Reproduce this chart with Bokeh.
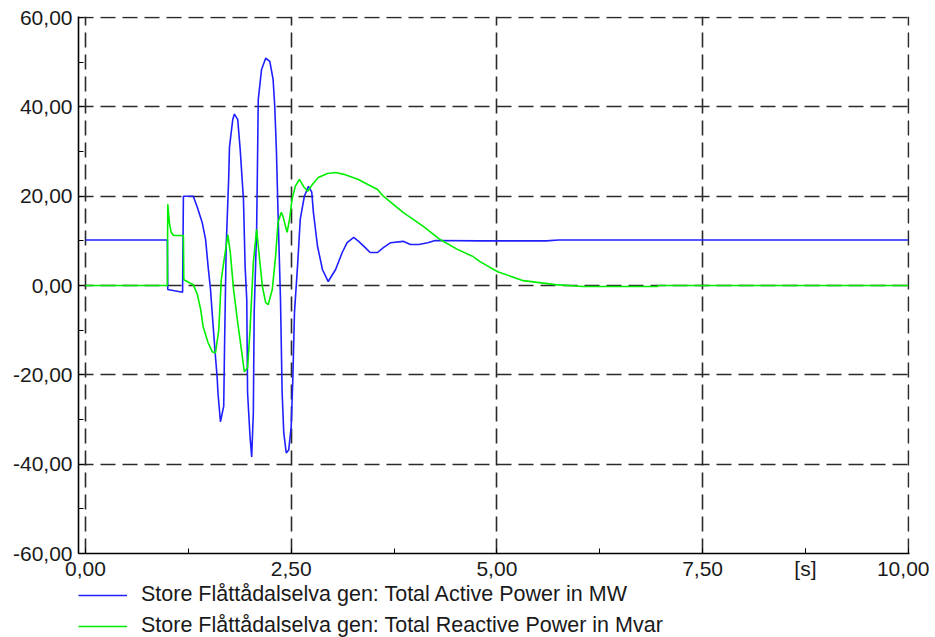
from bokeh.plotting import figure
from bokeh.models import Range1d, FixedTicker, Legend, LegendItem
from bokeh.layouts import column
from bokeh.embed import file_html
from bokeh.resources import INLINE

# ---- data ----
t_active = [0.00, 0.995, 1.00, 1.18, 1.19, 1.31, 1.36, 1.42, 1.46, 1.49, 1.52, 1.54, 1.58, 1.60, 1.61,
            1.64, 1.68, 1.69, 1.71, 1.74, 1.75, 1.79, 1.81, 1.85, 1.88, 1.92, 1.94, 1.96, 1.97, 2.00,
            2.02, 2.04, 2.05, 2.08, 2.09, 2.10, 2.14, 2.19, 2.24, 2.28, 2.30, 2.32, 2.34, 2.37, 2.39,
            2.41, 2.44, 2.47, 2.50, 2.52, 2.54, 2.58, 2.61, 2.66, 2.71, 2.75, 2.77, 2.82, 2.88, 2.95,
            3.04, 3.12, 3.18, 3.26, 3.32, 3.40, 3.46, 3.55, 3.62, 3.71, 3.86, 3.95, 4.05, 4.16, 4.25,
            4.80, 5.60, 5.75, 10.00]
p_active = [10.2, 10.2, -0.9, -1.5, 20.0, 20.0, 17.5, 14.0, 10.3, 4.3, -1.0, -6.2, -16.0, -20.5, -24.0,
            -30.5, -27.0, -13.6, 8.8, 23.8, 31.0, 37.2, 38.4, 37.2, 30.5, 19.3, 4.3, -3.1, -24.0, -33.9,
            -38.4, -28.5, -6.2, 12.5, 26.7, 41.7, 48.4, 50.9, 50.2, 46.2, 40.2, 30.5, 16.4, -3.1, -24.0,
            -33.0, -37.5, -36.8, -31.6, -21.0, -6.0, 5.2, 14.8, 20.0, 22.2, 20.9, 16.4, 8.8, 3.6, 0.9,
            3.6, 7.4, 9.6, 10.8, 9.9, 8.5, 7.4, 7.4, 8.5, 9.6, 9.9, 9.2, 9.2, 9.6, 10.1,
            10.0, 10.0, 10.2, 10.2]

t_reactive = [0.00, 0.995, 1.00, 1.02, 1.04, 1.07, 1.19, 1.195, 1.31, 1.36, 1.40, 1.43, 1.49, 1.54, 1.58,
              1.62, 1.65, 1.68, 1.73, 1.76, 1.80, 1.85, 1.90, 1.93, 1.97, 2.00, 2.04, 2.08, 2.10, 2.15,
              2.19, 2.22, 2.27, 2.31, 2.34, 2.38, 2.40, 2.45, 2.48, 2.51, 2.55, 2.60, 2.65, 2.70, 2.76,
              2.83, 2.94, 3.04, 3.14, 3.31, 3.55, 3.62, 3.86, 4.11, 4.31, 4.52, 4.71, 4.80, 5.01, 5.32,
              5.71, 6.05, 6.95, 6.96, 10.00]
q_reactive = [0.0, 0.0, 18.2, 14.0, 12.0, 11.2, 11.2, 1.3, 0.2, -2.0, -5.4, -9.2, -12.8, -14.8, -15.1,
              -9.9, 1.3, 5.2, 11.4, 7.4, -0.9, -8.3, -15.0, -19.3, -18.4, -9.9, 5.2, 12.6, 8.8, -0.2,
              -3.8, -4.3, -0.9, 6.5, 14.1, 16.4, 15.5, 11.9, 14.8, 19.3, 22.2, 23.8, 22.2, 21.1, 22.7,
              24.2, 25.1, 25.3, 24.9, 23.8, 21.5, 20.0, 16.4, 13.2, 10.3, 8.1, 6.5, 5.3, 3.1, 1.1,
              0.2, -0.2, -0.2, 0.0, 0.0]

x_major = [0, 2.5, 5, 7.5, 10]
x_labels = ["0,00", "2,50", "5,00", "7,50", "10,00"]
x_unit_pos = 8.75
x_unit = "[s]"
x_minor = [1.25, 3.75, 6.25, 8.75]
y_major = [-60, -40, -20, 0, 20, 40, 60]
y_labels = ["-60,00", "-40,00", "-20,00", "0,00", "20,00", "40,00", "60,00"]
y_minor = [-50, -30, -10, 10, 30, 50]

name_active = "Store Flåttådalselva gen: Total Active Power in MW"
name_reactive = "Store Flåttådalselva gen: Total Reactive Power in Mvar"
color_active = "#2020ff"
color_reactive = "#00ee00"

FONT = "Liberation Sans"

p = figure(frame_width=831, frame_height=537, output_backend="svg", toolbar_location=None,
           x_range=Range1d(-0.085, 10.015), y_range=Range1d(-60, 60.25),
           min_border_left=78, min_border_right=20, min_border_top=16, min_border_bottom=24)
p.outline_line_color = None
p.background_fill_color = "white"
p.border_fill_color = "white"

# axes
xt = sorted(x_major + [x_unit_pos])
p.xaxis.ticker = FixedTicker(ticks=xt, minor_ticks=x_minor)
ov = {v: l for v, l in zip(x_major, x_labels)}
ov[x_unit_pos] = x_unit
p.xaxis.major_label_overrides = ov
p.yaxis.ticker = FixedTicker(ticks=y_major, minor_ticks=y_minor)
p.yaxis.major_label_overrides = {v: l for v, l in zip(y_major, y_labels)}

for ax in (p.xaxis[0], p.yaxis[0]):
    ax.axis_line_color = "black"
    ax.axis_line_width = 1.6
    ax.major_tick_in = 5
    ax.major_tick_out = 0
    ax.minor_tick_in = 5
    ax.minor_tick_out = 0
    ax.major_tick_line_color = "black"
    ax.minor_tick_line_color = "black"
    ax.major_label_text_font = FONT
    ax.major_label_text_font_size = "21px"
    ax.major_label_text_color = "#1a1a1a"
p.yaxis.major_label_standoff = 6
p.xaxis.major_label_standoff = 3

# grid
p.xgrid.ticker = FixedTicker(ticks=x_major)
p.ygrid.ticker = FixedTicker(ticks=y_major)
for g in (p.xgrid[0], p.ygrid[0]):
    g.grid_line_color = "#2a2a2a"
    g.grid_line_width = 1.6
    g.grid_line_dash = "15 7"
    g.grid_line_alpha = 1.0

p.line(t_active, p_active, line_color=color_active, line_width=1.6)
p.line(t_reactive, q_reactive, line_color=color_reactive, line_width=1.6)

# legend strip below the chart (same frame alignment as the chart)
lg = figure(frame_width=831, height=60, output_backend="svg", toolbar_location=None,
            x_range=Range1d(0, 1), y_range=Range1d(0, 1),
            min_border_left=78, min_border_right=20, min_border_top=0, min_border_bottom=0)
lg.axis.visible = False
lg.grid.visible = False
lg.outline_line_color = None
lg.background_fill_color = "white"
lg.border_fill_color = "white"
d1 = lg.line([-3, -2], [-3, -2], line_color=color_active, line_width=1.6)
d2 = lg.line([-3, -2], [-3, -2], line_color=color_reactive, line_width=1.6)
legend = Legend(items=[LegendItem(label=name_active, renderers=[d1]),
                       LegendItem(label=name_reactive, renderers=[d2])],
                location="top_left", orientation="vertical",
                background_fill_alpha=0, border_line_color=None,
                padding=0, margin=0, spacing=6,
                glyph_width=49, glyph_height=20, label_height=20,
                label_standoff=14,
                label_text_font=FONT, label_text_font_size="21.5px",
                label_text_color="#1a1a1a")
lg.add_layout(legend, "center")

layout = column(p, lg, spacing=0)
open("out.html", "w").write(file_html(layout, INLINE))
